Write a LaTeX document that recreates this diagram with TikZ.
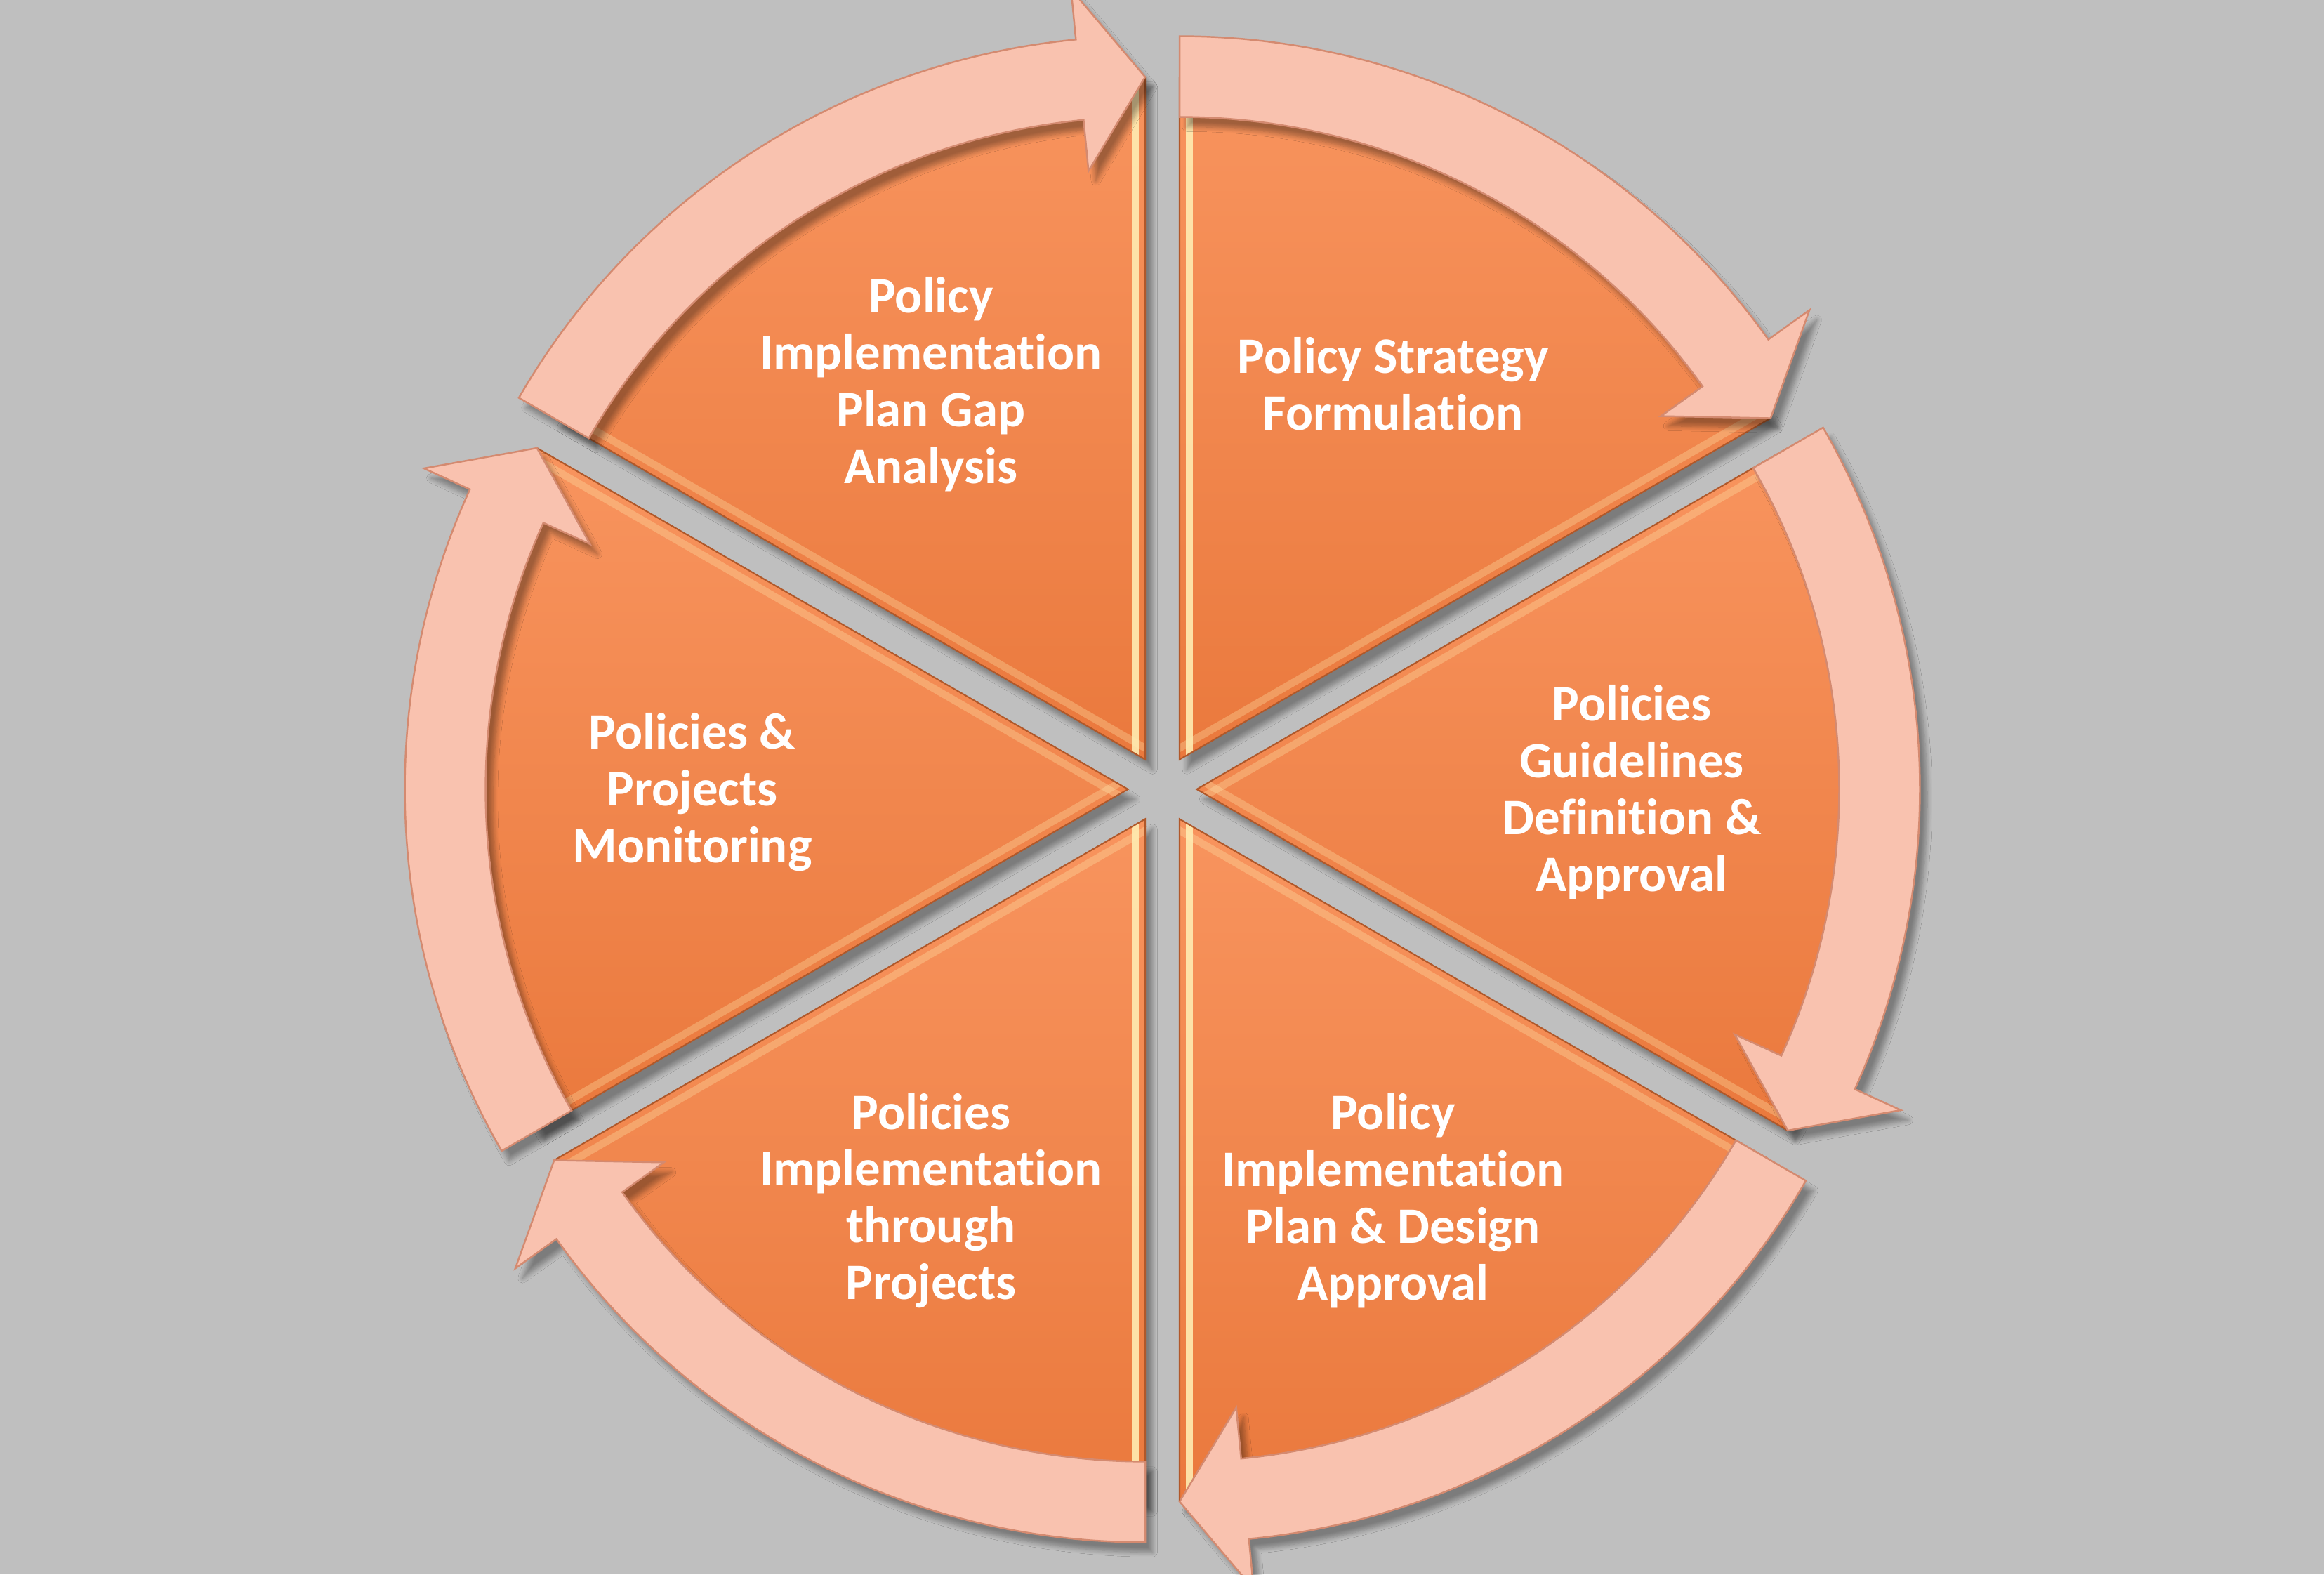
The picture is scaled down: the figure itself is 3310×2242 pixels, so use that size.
\documentclass[tikz,border=0pt]{standalone}
\usepackage{fontspec}
\setmainfont{Carlito}[Ligatures={NoCommon}]
\usetikzlibrary{shadows.blur}
\definecolor{bg}{RGB}{191,191,191}
\definecolor{wtop}{RGB}{248,148,94}
\definecolor{wbot}{RGB}{234,121,61}
\definecolor{wedgeline}{RGB}{176,88,42}
\definecolor{arrf}{RGB}{249,194,175}
\definecolor{arrd}{RGB}{212,138,112}
\definecolor{hl}{RGB}{255,236,178}
\definecolor{glow}{RGB}{240,125,60}
\tikzset{
  wedgeshape/.style={top color=wtop,bottom color=wbot,
    blur shadow={shadow xshift=3pt,shadow yshift=-4pt,shadow blur steps=8,shadow opacity=35}},
  arrowband/.style={fill=arrf,draw=arrd,line width=0.7pt,line join=miter,
    blur shadow={shadow xshift=3pt,shadow yshift=-4pt,shadow blur steps=8,shadow opacity=35}},
  lbl/.style={text=white,font=\bfseries\fontsize{20.7}{23}\selectfont,align=center,inner sep=0pt}
}
\begin{document}
\begin{tikzpicture}[x=0.01cm,y=0.01cm]
\fill[bg] (0,0) rectangle (3310,2242);
\useasboundingbox (0,0) rectangle (3310,2242);
\clip (0,0) rectangle (3310,2242);
% wedges
\foreach \b/\la/\lb in {60/0.9/0.3, 0/0.3/0.3, -60/0.3/0.9, -120/0.9/0.3, 180/0.3/0.3, 120/0.3/0.9} {
  \begin{scope}[shift={(1655.5,1118)},shift={(\b:49)}]
    \shade[wedgeshape] (0,0) -- (\b+30:972) arc[start angle=\b+30,end angle=\b-30,radius=972] -- cycle;
    \begin{scope}
      \clip (0,0) -- (\b+30:972) arc[start angle=\b+30,end angle=\b-30,radius=972] -- cycle;
      \draw[hl,opacity=\la,line width=3pt] ([shift={(\b-60:14)}]0,0) -- ([shift={(\b-60:14)}]\b+30:1000);
      \draw[hl,opacity=\lb,line width=3pt] ([shift={(\b+60:14)}]0,0) -- ([shift={(\b+60:14)}]\b-30:1000);
    \end{scope}
    \draw[wedgeline,line width=0.6pt] (\b+30:972) -- (0,0) -- (\b-30:972);
  \end{scope}
}
% arrows
\foreach \b in {60,0,-60,-120,180,120} {
  \begin{scope}[shift={(1655.5,1118)},shift={(\b:49)}]
    \path[arrowband] (\b+30:1030) arc[start angle=\b+30,end angle=\b-24.5,radius=1030]
      -- (\b-24.5:1102) -- (\b-30:972) -- (\b-24.5:842) -- (\b-24.5:915)
      arc[start angle=\b-24.5,end angle=\b+30,radius=915] -- cycle;
  \end{scope}
}
% labels
\node[lbl] (tl) at (1326,1695) {Policy\\Implementation\\Plan Gap\\Analysis};
\node[lbl] (tr) at (1984,1695) {Policy Strategy\\Formulation};
\node[lbl] (r) at (2324,1114) {Policies\\Guidelines\\Definition \&\\Approval};
\node[lbl] (br) at (1984,532) {Policy\\Implementation\\Plan \& Design\\Approval};
\node[lbl] (bl) at (1326,532) {Policies\\Implementation\\through\\Projects};
\node[lbl] (l) at (986,1114) {Policies \&\\Projects\\Monitoring};
\end{tikzpicture}
\end{document}
